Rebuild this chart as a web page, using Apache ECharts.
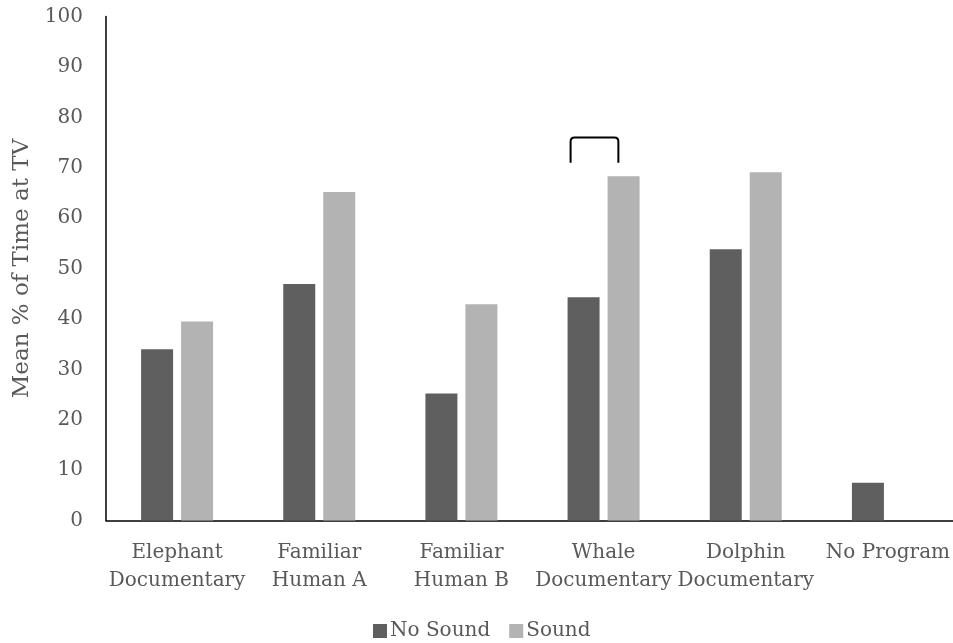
<!DOCTYPE html>
<html>
<head>
<meta charset="utf-8">
<script src="https://cdn.jsdelivr.net/npm/echarts@6/dist/echarts.min.js"></script>
<style>
html,body{margin:0;padding:0;background:#fff;}
#chart{width:953px;height:643px;}
</style>
</head>
<body>
<div id="chart"></div>
<script>
const categories = ['Elephant\nDocumentary', 'Familiar\nHuman A', 'Familiar\nHuman B', 'Whale\nDocumentary', 'Dolphin\nDocumentary', 'No Program'];
const noSound = [34.0, 46.9, 25.2, 44.3, 53.8, 7.5];
const sound = [39.5, 65.2, 42.9, 68.3, 69.1, null];
const yTicks = [0, 100, 10];
// significance bracket: [category index, leg bottom value, top value]
const bracket = [[3, 71, 76]];

const FONT = 'DejaVu Serif';
const TXT = '#595959';

const chart = echarts.init(document.getElementById('chart'), null, {renderer: 'canvas'});
chart.setOption({
  animation: false,
  backgroundColor: '#fff',
  textStyle: {fontFamily: FONT},
  grid: {left: 106, top: 16.5, bottom: 122.5, right: -6, containLabel: false, outerBoundsMode: 'none'},
  legend: {
    data: ['No Sound', 'Sound'],
    left: 373, top: 621, padding: 0,
    itemWidth: 14, itemHeight: 14, itemGap: 19,
    icon: 'rect',
    textStyle: {fontFamily: FONT, fontSize: 20, color: TXT, padding: [0, 0, 0, -2]}
  },
  xAxis: {
    type: 'category',
    data: categories,
    axisLine: {lineStyle: {color: '#000', width: 1.5}},
    axisTick: {show: false},
    axisLabel: {fontFamily: FONT, fontSize: 20, color: TXT, lineHeight: 28, margin: 18, interval: 0}
  },
  yAxis: {
    type: 'value',
    min: yTicks[0], max: yTicks[1], interval: yTicks[2],
    name: 'Mean % of Time at TV',
    nameLocation: 'middle',
    nameGap: 72,
    nameTextStyle: {fontFamily: FONT, fontSize: 23, color: TXT},
    axisLine: {show: true, lineStyle: {color: '#000', width: 1.5}},
    axisTick: {show: false},
    splitLine: {show: false},
    axisLabel: {fontFamily: FONT, fontSize: 20, color: TXT, margin: 23}
  },
  series: [
    {name: 'No Sound', type: 'bar', data: noSound, barWidth: 32, barGap: '25%',
     itemStyle: {color: '#5f5f5f'}},
    {name: 'Sound', type: 'bar', data: sound, barWidth: 32, barGap: '25%',
     itemStyle: {color: '#b3b3b3'}},
    {name: 'bracket', type: 'custom', data: bracket, silent: true, z: 5,
     renderItem: function (params, api) {
       const top = api.coord([api.value(0), api.value(2)]);
       const bot = api.coord([api.value(0), api.value(1)]);
       const bw = api.size([1, 0])[0];
       const xl = top[0] - 0.232 * bw, xr = top[0] + 0.104 * bw;
       const r = 4;
       const d = 'M' + xl + ' ' + bot[1] + ' L' + xl + ' ' + (top[1] + r) +
         ' Q' + xl + ' ' + top[1] + ' ' + (xl + r) + ' ' + top[1] +
         ' L' + (xr - r) + ' ' + top[1] +
         ' Q' + xr + ' ' + top[1] + ' ' + xr + ' ' + (top[1] + r) +
         ' L' + xr + ' ' + bot[1];
       return {type: 'path', shape: {pathData: d}, style: {stroke: '#000', lineWidth: 2, fill: null}};
     }}
  ]
});
</script>
</body>
</html>
